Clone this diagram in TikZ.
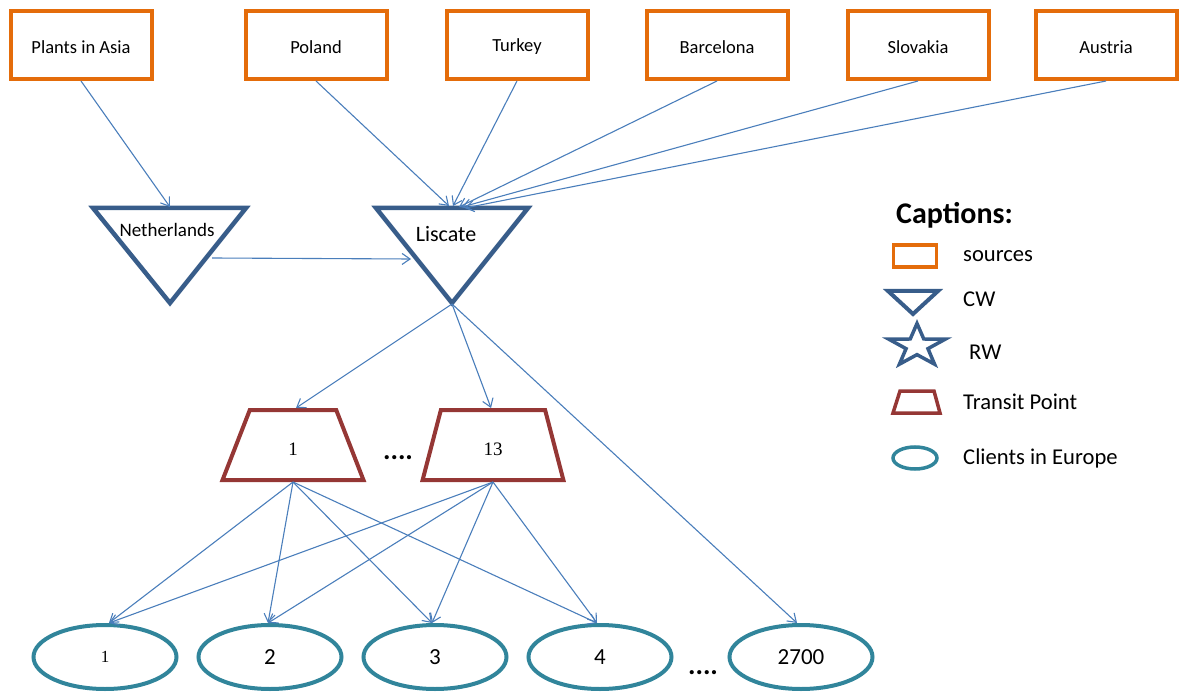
\documentclass[tikz,border=0pt]{standalone}
\usepackage{fontspec}
\setmainfont{Carlito}
\newfontfamily\numserif{Liberation Serif}
\usetikzlibrary{arrows.meta,shapes.geometric}
\definecolor{srcorange}{RGB}{228,108,10}
\definecolor{cwblue}{RGB}{56,93,138}
\definecolor{tpred}{RGB}{149,55,53}
\definecolor{clteal}{RGB}{49,133,155}
\definecolor{flowblue}{RGB}{74,126,187}
% lower a label inside its node without changing the node's size
\newcommand{\lowered}[2]{\raisebox{-#1}[\height][\depth]{#2}}
\begin{document}
\begin{tikzpicture}[x=1pt,y=-1pt,
  srcbox/.style={draw=srcorange,line width=4pt,minimum width=141pt,minimum height=68pt,
    font=\fontsize{18.5}{20}\selectfont,inner sep=0pt},
  cwtri/.style={draw=cwblue,line width=4.5pt,line join=miter},
  tpbox/.style={trapezium,trapezium left angle=76,trapezium right angle=76,trapezium stretches=true,
    draw=tpred,line width=4pt,minimum width=141pt,minimum height=70pt,inner sep=1pt,
    font=\numserif\fontsize{19}{20}\selectfont},
  client/.style={ellipse,draw=clteal,line width=4pt,minimum width=143pt,minimum height=64pt,
    inner sep=0pt,font=\fontsize{23}{24}\selectfont},
  flow/.style={draw=flowblue,line width=1.1pt,-{Straight Barb[length=8pt,width=11pt,line width=1.1pt]}},
  legtext/.style={anchor=west,font=\fontsize{22.6}{24}\selectfont,inner sep=0pt},
  dots/.style={font=\fontsize{28}{30}\selectfont\bfseries,inner sep=0pt}]
\useasboundingbox (0,0) rectangle (1180,692);

% sources
\node[srcbox] (asia) at (81,45) {\lowered{2pt}{Plants in Asia}};
\node[srcbox] (poland) at (316,45) {\lowered{2pt}{Poland}};
\node[srcbox] (turkey) at (517,45) {\lowered{2pt}{Turkey}};
\node[srcbox] (barcelona) at (717,45) {\lowered{2pt}{Barcelona}};
\node[srcbox] (slovakia) at (918,45) {\lowered{2pt}{Slovakia}};
\node[srcbox] (austria) at (1106,45) {\lowered{2pt}{Austria}};

% central warehouses
\draw[cwtri] (93,208) -- (246,208) -- (170,303) -- cycle;
\draw[cwtri] (376,208) -- (528,208) -- (452,303) -- cycle;
\node[font=\fontsize{19}{20}\selectfont] (neth) at (167,230) {Netherlands};
\node[font=\fontsize{22}{24}\selectfont] (lisc) at (446,234) {Liscate};
\coordinate (neth-in) at (170,207);
\coordinate (neth-out) at (212,258);
\coordinate (lisc-side) at (411,259);
\coordinate (lisc-in1) at (449,206);
\coordinate (lisc-in2) at (453,206);
\coordinate (lisc-in3) at (459,207);
\coordinate (lisc-in4) at (462,207);
\coordinate (lisc-in5) at (465,208);
\coordinate (lisc-out) at (452,304);

% transit points
\node[tpbox] (tp1) at (293,445) {\lowered{4pt}{1}};
\node[tpbox] (tp13) at (493,445) {\lowered{4pt}{13}};
\node[dots] (tpdots) at (398,458) {....};

% clients
\node[client] (c1) at (105,657) {\numserif\fontsize{17}{18}\selectfont 1};
\node[client] (c2) at (270,657) {2};
\node[client] (c3) at (435,657) {3};
\node[client] (c4) at (600,657) {4};
\node[client] (c2700) at (801,657) {2700};
\node[dots] (cdots) at (703,673) {....};

% flows from sources
\draw[flow] (asia.south) -- (neth-in);
\draw[flow] (poland.south) -- (lisc-in1);
\draw[flow] (turkey.south) -- (lisc-in2);
\draw[flow] (barcelona.south) -- (lisc-in3);
\draw[flow] (slovakia.south) -- (lisc-in4);
\draw[flow] (austria.south) -- (lisc-in5);
\draw[flow] (neth-out) -- (lisc-side);

% flows from Liscate
\draw[flow] (lisc-out) -- ([xshift=3pt]tp1.north);
\draw[flow] (lisc-out) -- ([xshift=-2pt]tp13.north);
\draw[flow] (lisc-out) -- ([xshift=-4pt]c2700.north);

% flows from transit points
\foreach \t in {tp1,tp13}{
  \draw[flow] (\t.south) -- ([xshift=4pt]c1.north);
  \draw[flow] (\t.south) -- ([xshift=-2pt]c2.north);
  \draw[flow] (\t.south) -- ([xshift=-3pt]c3.north);
  \draw[flow] (\t.south) -- ([xshift=-3pt]c4.north);
}

% captions
\node[anchor=west,font=\fontsize{30}{32}\selectfont\bfseries,inner sep=0pt] (capt) at (896,215) {Captions:};
\node[draw=srcorange,line width=3.5pt,minimum width=43pt,minimum height=22pt,inner sep=0pt] (lgsrc) at (915,256) {};
\node[legtext] (lgsrct) at (963,256) {sources};
\draw[cwtri,line width=4pt] (888,291) -- (938,291) -- (913,314) -- cycle;
\node[legtext] (lgcwt) at (963,299) {CW};
\node[star,star points=5,star point ratio=2.6,draw=cwblue,line width=3.5pt,minimum size=45pt,
  inner sep=0pt,xscale=1.33,transform shape] (lgrw) at (917,346) {};
\node[legtext] (lgrwt) at (969,352) {RW};
\draw[draw=tpred,line width=3.5pt,line join=miter] (900,391) -- (934,391) -- (940,413) -- (893,413) -- cycle;
\node[legtext] (lgtpt) at (963,402) {Transit Point};
\node[ellipse,draw=clteal,line width=3.5pt,minimum width=44pt,minimum height=22pt,inner sep=0pt] (lgcl) at (915,458) {};
\node[legtext] (lgclt) at (963,458) {Clients in Europe};
\end{tikzpicture}
\end{document}
